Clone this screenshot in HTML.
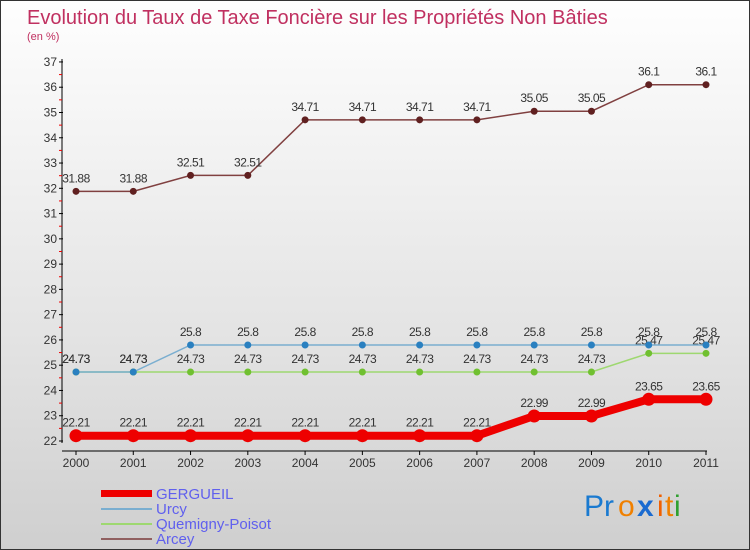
<!DOCTYPE html>
<html><head><meta charset="utf-8"><style>
body{margin:0}
#c{width:748px;height:548px;border:1px solid #333;background:linear-gradient(#fefefe,#e4e4e4 60%,#cfcfcf);position:relative;font-family:"Liberation Sans","DejaVu Sans",sans-serif;overflow:hidden}
</style></head><body>
<div id="c">
<svg id="s" width="748" height="548" font-family="Liberation Sans, sans-serif">
<text x="26" y="23" font-size="20" fill="#c03060">Evolution du Taux de Taxe Foncière sur les Propriétés Non Bâties</text>
<text x="26" y="39" font-size="11" fill="#c03060">(en %)</text>
<text x="155" y="498" font-size="15" fill="#6060ee">GERGUEIL</text>
<text x="155" y="513" font-size="15" fill="#6060ee">Urcy</text>
<text x="155" y="528" font-size="15" fill="#6060ee">Quemigny-Poisot</text>
<text x="155" y="543" font-size="15" fill="#6060ee">Arcey</text>
<rect x="100" y="489" width="51" height="7" fill="#ee0000"/>
<rect x="100" y="507" width="51" height="2" fill="#7aaed0"/>
<rect x="100" y="522" width="51" height="2" fill="#9ed870"/>
<rect x="100" y="537" width="51" height="2" fill="#906060"/>
<g font-size="30" font-family="Liberation Sans"><text x="583" y="515" fill="#1a7ad0">Pr</text><text x="617" y="515" fill="#f08000">o</text><text x="636" y="515" fill="#1a6ad0" font-weight="bold">x</text><text x="656" y="515" fill="#f06000">i</text><text x="664" y="515" fill="#f08000">t</text><text x="673" y="515" fill="#30a030">i</text></g>
</svg></div>
<script>
const years=["2000","2001","2002","2003","2004","2005","2006","2007","2008","2009","2010","2011"];
const gergueil=[22.21,22.21,22.21,22.21,22.21,22.21,22.21,22.21,22.99,22.99,23.65,23.65];
const urcy=[24.73,24.73,25.8,25.8,25.8,25.8,25.8,25.8,25.8,25.8,25.8,25.8];
const quemigny=[24.73,24.73,24.73,24.73,24.73,24.73,24.73,24.73,24.73,24.73,25.47,25.47];
const arcey=[31.88,31.88,32.51,32.51,34.71,34.71,34.71,34.71,35.05,35.05,36.1,36.1];
const yTicks=[22,23,24,25,26,27,28,29,30,31,32,33,34,35,36,37];
const NS="http://www.w3.org/2000/svg",s=document.getElementById('s');
const X=i=>75+i*(630/11), Y=v=>440-(v-22)*25.27;
function mk(t,a,p){const e=document.createElementNS(NS,t);for(const k in a)e.setAttribute(k,a[k]);(p||s).appendChild(e);return e;}
const ax=mk('g',{});


mk('line',{x1:61,y1:58,x2:61,y2:442,stroke:'#000'},ax);
mk('line',{x1:61,y1:450,x2:706,y2:450,stroke:'#000'},ax);
yTicks.forEach(v=>{mk('line',{x1:58,y1:Y(v),x2:62,y2:Y(v),stroke:'#000'},ax);
 if(v<37)mk('line',{x1:58,y1:Y(v+0.5),x2:61,y2:Y(v+0.5),stroke:'#e00'},ax);
 const t=mk('text',{x:56,y:Y(v)+4,'font-size':12,fill:'#333','text-anchor':'end'},ax);t.textContent=v;
 
 });
years.forEach((y,i)=>{mk('line',{x1:X(i),y1:450,x2:X(i),y2:454,stroke:'#000'},ax);
 const t=mk('text',{x:X(i),y:466,'font-size':12,fill:'#333','text-anchor':'middle'},ax);t.textContent=y;
 
 });
function series(name,d,col,w,r,dot){const g=mk('g',{});
 
 
 mk('polyline',{points:d.map((v,i)=>X(i)+','+Y(v)).join(' '),fill:'none',stroke:col,'stroke-width':w},g);
 d.forEach((v,i)=>{const c=mk('circle',{cx:X(i),cy:Y(v),r:r,fill:dot},g);
  
  
  const t=mk('text',{x:X(i),y:Y(v)-9,'font-size':12,fill:'#333','text-anchor':'middle','letter-spacing':'-0.5'},g);t.textContent=v;
  
  });}
series('arcey',arcey,'#804040',1.5,3.5,'#602020');
series('quemigny',quemigny,'#9ed870',1.5,3.5,'#70c030');
series('urcy',urcy,'#7aaed0',1.5,3.5,'#2a80c0');
series('gergueil',gergueil,'#ee0000',8,6.5,'#ee0000');
</script></body></html>
